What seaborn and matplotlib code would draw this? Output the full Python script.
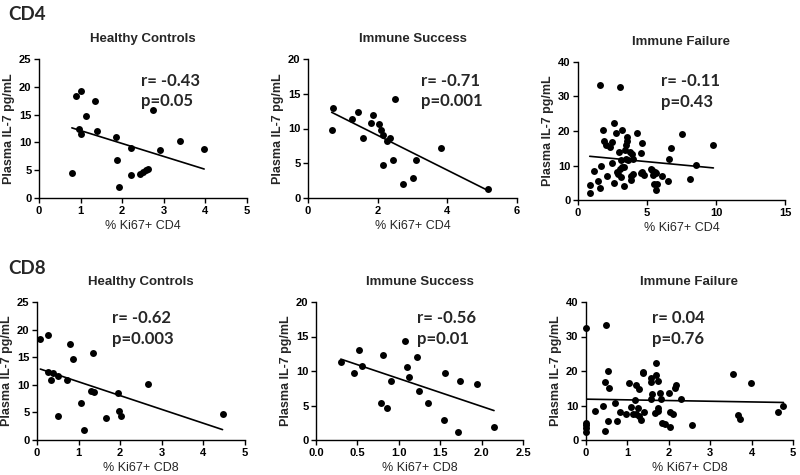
import matplotlib
matplotlib.use("Agg")
import matplotlib.pyplot as plt
import seaborn as sns
import numpy as np
import pandas as pd

# ---------------- data ----------------
cd4_hc_x = [0.79, 0.89, 1.01, 0.97, 1.01, 1.13, 1.34, 1.40, 1.85, 1.88, 1.93, 2.22, 2.22,
            2.43, 2.51, 2.57, 2.62, 2.74, 2.91, 3.39, 3.97]
cd4_hc_y = [4.5, 18.4, 19.2, 12.4, 11.6, 14.8, 17.5, 12.1, 11.0, 6.8, 1.9, 4.1, 9.0,
            4.4, 4.7, 5.1, 5.3, 15.8, 8.6, 10.2, 8.9]

cd4_is_x = [0.72, 0.68, 1.26, 1.44, 1.58, 1.82, 1.88, 2.05, 2.11, 2.15, 2.16, 2.27, 2.36,
            2.43, 2.50, 2.73, 3.00, 3.11, 3.81, 5.16]
cd4_is_y = [13.0, 9.8, 11.35, 12.36, 8.6, 10.8, 12.0, 10.6, 9.76, 9.0, 4.8, 8.2, 8.6,
            5.4, 14.3, 2.0, 2.9, 5.4, 7.2, 1.25]

cd4_if_x = [1.57, 3.04, 2.63, 1.79, 3.21, 2.75, 4.28, 7.56, 1.91, 2.46, 3.57, 3.55, 4.61,
            2.00, 2.32, 3.50, 9.81, 6.74, 3.41, 3.74, 4.59, 2.97, 3.89, 3.99, 3.09, 6.57,
            8.58, 1.67, 2.44, 3.33, 3.02, 1.16, 4.66, 2.90, 3.14, 2.08, 3.86, 4.56, 4.78,
            5.39, 5.56, 5.68, 6.06, 5.46, 6.52, 8.12, 5.48, 5.70, 5.68, 1.43, 1.62, 2.63,
            3.31, 3.86, 0.85, 0.85, 3.50, 3.20, 3.60, 5.30, 2.80, 4.00]
cd4_if_y = [33.4, 32.7, 22.3, 20.2, 20.2, 19.5, 19.4, 19.0, 17.1, 16.8, 18.3, 17.1, 16.6,
            15.8, 15.3, 15.8, 16.0, 15.1, 14.6, 13.9, 13.6, 13.9, 13.3, 12.0, 11.6, 11.8,
            10.2, 10.0, 10.6, 9.7, 9.1, 8.4, 8.1, 7.6, 6.8, 7.0, 6.9, 7.7, 7.2,
            8.6, 8.0, 7.7, 6.9, 7.2, 5.5, 6.0, 4.5, 4.5, 2.8, 5.5, 3.6, 5.0,
            4.0, 5.8, 4.3, 2.1, 12.0, 9.5, 11.5, 9.0, 8.0, 7.5]

cd8_hc_x = [0.08, 0.26, 0.80, 0.86, 1.34, 0.26, 0.38, 0.34, 0.50, 0.72, 0.50, 1.06, 1.30,
            1.36, 1.12, 1.66, 1.94, 1.96, 2.02, 2.66, 4.46]
cd8_hc_y = [18.25, 19.1, 17.35, 14.6, 15.7, 12.35, 12.05, 10.9, 11.6, 10.8, 4.4, 6.7, 8.85,
            8.73, 1.8, 4.0, 8.43, 5.2, 4.3, 10.1, 4.8]

cd8_is_x = [0.30, 0.46, 0.52, 0.55, 0.81, 0.91, 0.78, 0.86, 1.07, 1.10, 1.12, 1.22, 1.24,
            1.35, 1.56, 1.55, 1.74, 1.71, 1.94, 2.15]
cd8_is_y = [11.3, 9.7, 13.0, 10.7, 12.3, 8.5, 5.35, 4.7, 14.3, 10.55, 9.06, 12.0, 7.1,
            5.35, 9.7, 2.85, 8.5, 1.2, 8.1, 1.9]

cd8_if_x = [0.0, 0.0, 0.0, 0.0, 0.0, 0.48, 0.52, 0.45, 0.56, 0.40, 0.21, 0.53, 0.47, 0.70,
            0.76, 0.82, 0.96, 1.03, 1.09, 1.21, 1.27, 1.19, 1.13, 1.21, 1.26, 1.29, 1.32,
            1.39, 1.37, 1.38, 1.57, 1.56, 1.59, 1.56, 1.70, 1.70, 1.75, 1.78, 1.80, 1.74,
            1.75, 1.66, 1.83, 1.90, 2.03, 2.03, 2.11, 2.01, 2.14, 2.17, 2.29, 2.57, 3.55,
            3.99, 3.68, 3.73, 4.64, 4.77]
cd8_if_y = [32.6, 4.3, 3.4, 2.2, 5.0, 33.4, 20.0, 16.9, 15.1, 9.8, 8.4, 5.6, 2.7, 10.6,
            5.6, 8.1, 7.4, 16.5, 9.6, 15.8, 14.7, 11.6, 7.6, 7.4, 9.2, 7.0, 5.7,
            8.1, 19.8, 19.5, 17.9, 16.7, 13.3, 11.9, 22.2, 18.7, 17.1, 13.7, 11.8, 9.3,
            8.5, 7.7, 4.8, 4.5, 3.9, 8.2, 7.5, 13.7, 15.0, 15.8, 11.8, 4.4, 19.2,
            16.4, 7.2, 6.0, 8.0, 10.0]

titles = ["Healthy Controls", "Immune Success", "Immune Failure"]
stats = [["r= -0.43\np=0.05", "r= -0.71\np=0.001", "r= -0.11\np=0.43"],
         ["r= -0.62\np=0.003", "r= -0.56\np=0.01", "r= 0.04\np=0.76"]]
row_labels = ["CD4", "CD8"]
xlabels = ["% Ki67+ CD4", "% Ki67+ CD8"]
ylabel = "Plasma IL-7 pg/mL"

data = [[(cd4_hc_x, cd4_hc_y), (cd4_is_x, cd4_is_y), (cd4_if_x, cd4_if_y)],
        [(cd8_hc_x, cd8_hc_y), (cd8_is_x, cd8_is_y), (cd8_if_x, cd8_if_y)]]

xlims = [[(0, 5), (0, 6), (0, 15)], [(0, 5), (0, 2.5), (0, 5)]]
xticks = [[np.arange(0, 6, 1), np.arange(0, 7, 2), np.arange(0, 16, 5)],
          [np.arange(0, 6, 1), np.arange(0, 2.51, 0.5), np.arange(0, 6, 1)]]
ylims = [[(0, 25), (0, 20), (0, 40)], [(0, 25), (0, 20), (0, 40)]]
yticks = [[np.arange(0, 26, 5), np.arange(0, 21, 5), np.arange(0, 41, 10)],
          [np.arange(0, 26, 5), np.arange(0, 21, 5), np.arange(0, 41, 10)]]

# ---------------- styling ----------------
sns.set_style("ticks")
plt.rcParams["font.family"] = ["Liberation Sans", "DejaVu Sans"]
plt.rcParams["axes.linewidth"] = 1.0
plt.rcParams["xtick.major.width"] = 1.0
plt.rcParams["ytick.major.width"] = 1.0
plt.rcParams["xtick.major.size"] = 3.5
plt.rcParams["ytick.major.size"] = 3.5
plt.rcParams["xtick.color"] = "black"
plt.rcParams["ytick.color"] = "black"
plt.rcParams["axes.edgecolor"] = "black"

W, H = 800, 475
fig = plt.figure(figsize=(8, 4.75), dpi=100)

# axes boxes in pixels: (left, top, right, bottom)
boxes = [[(39, 59, 247, 198), (308, 59, 517, 198), (578, 62, 785, 200)],
         [(37, 302, 245, 440), (316, 302, 523, 440), (586, 302, 793, 440)]]
stat_pos = [[(0.49, 0.90), (0.54, 0.90), (0.40, 0.92)],
            [(0.36, 0.94), (0.49, 0.94), (0.32, 0.94)]]

for r in range(2):
    for c in range(3):
        l, t, rr, b = boxes[r][c]
        ax = fig.add_axes([l / W, 1 - b / H, (rr - l) / W, (b - t) / H])
        x, y = data[r][c]
        df = pd.DataFrame({"x": x, "y": y})
        sns.regplot(data=df, x="x", y="y", ax=ax, ci=None, color="black",
                    scatter_kws=dict(s=25, clip_on=False, linewidths=0, alpha=1),
                    line_kws=dict(lw=1.2))
        ax.set_xlim(*xlims[r][c])
        ax.set_ylim(*ylims[r][c])
        ax.set_xticks(xticks[r][c])
        ax.set_yticks(yticks[r][c])
        if r == 1 and c == 1:
            ax.set_xticklabels([f"{v:.1f}" for v in xticks[r][c]])
        else:
            ax.set_xticklabels([f"{v:g}" for v in xticks[r][c]])
        for lab in ax.get_xticklabels() + ax.get_yticklabels():
            lab.set_fontweight("bold")
            lab.set_fontsize(8)
        ax.tick_params(pad=2)
        sns.despine(ax=ax)
        ax.set_xlabel(xlabels[r], fontsize=9, labelpad=3)
        ax.set_ylabel(ylabel, fontsize=9, fontweight="bold", labelpad=3)
        ax.set_title(titles[c], fontsize=9.5, fontweight="bold", pad=12)
        sx, sy = stat_pos[r][c]
        ax.text(sx, sy, stats[r][c], transform=ax.transAxes, fontsize=12,
                fontweight="bold", family=["Lato", "DejaVu Sans"],
                va="top", ha="left", linespacing=1.35)

fig.text(8 / W, 1 - 14 / H, row_labels[0], fontsize=13.5, fontweight="bold",
         family=["Lato", "DejaVu Sans"], va="center", ha="left")
fig.text(8 / W, 1 - 268 / H, row_labels[1], fontsize=13.5, fontweight="bold",
         family=["Lato", "DejaVu Sans"], va="center", ha="left")

fig.savefig("out.png", dpi=100, facecolor="white")
